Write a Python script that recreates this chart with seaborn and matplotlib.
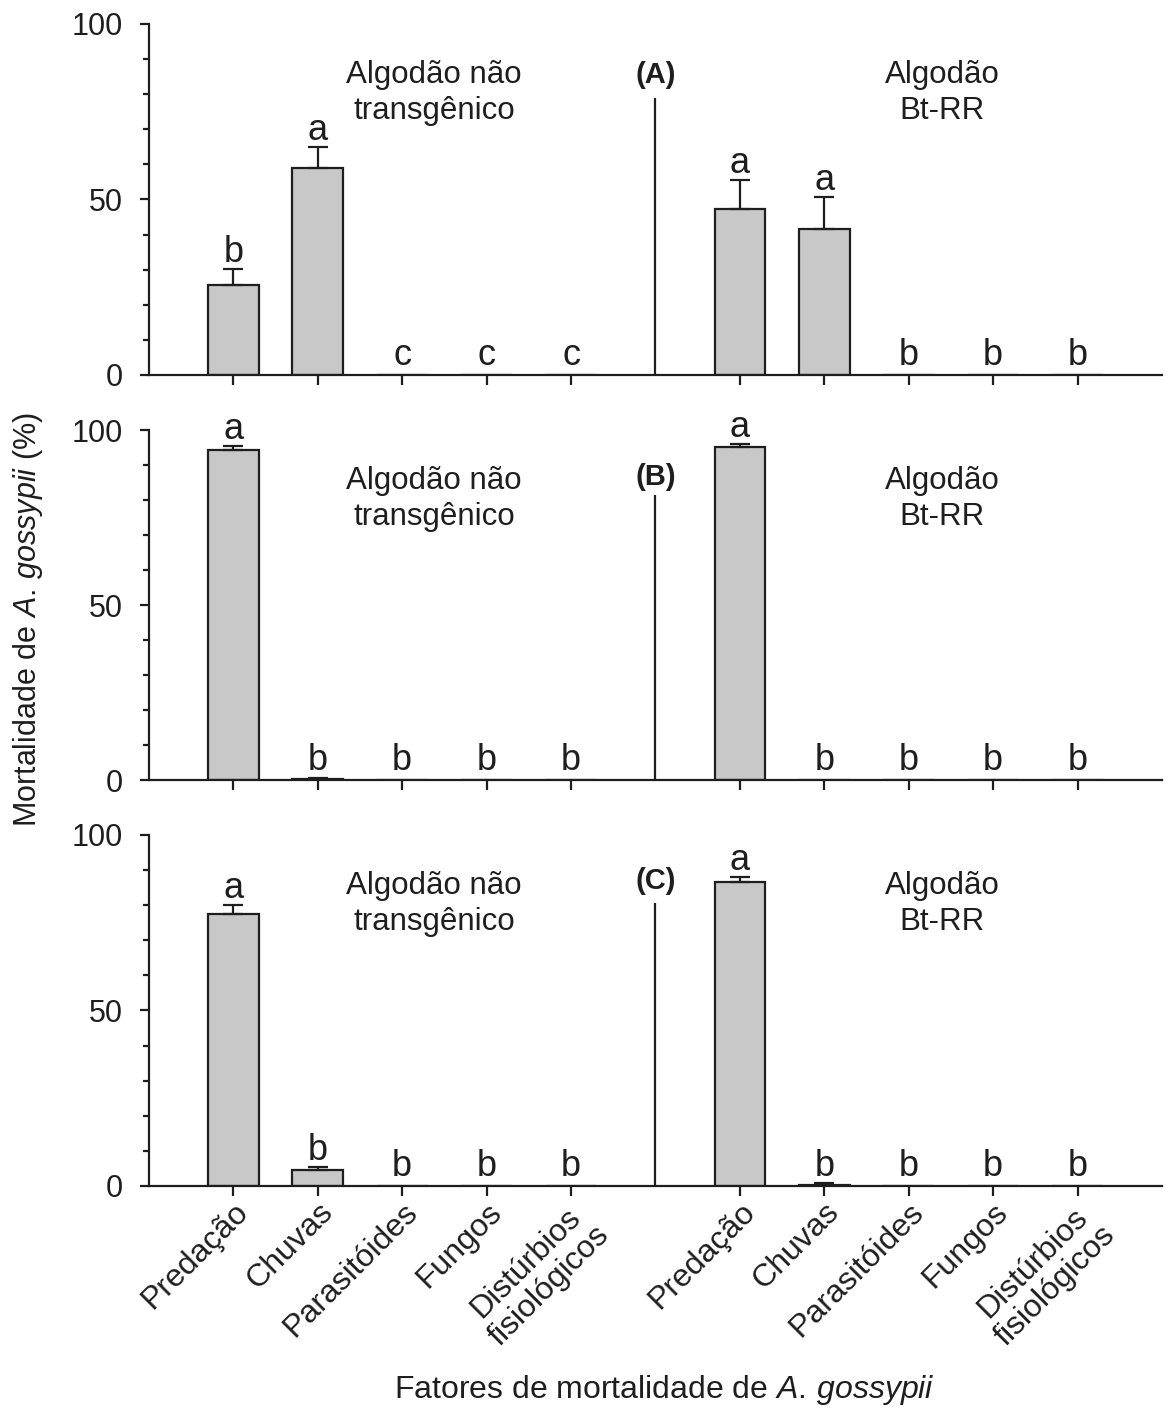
import numpy as np
import pandas as pd
import seaborn as sns
import matplotlib.pyplot as plt
from matplotlib.ticker import MultipleLocator

# Fatores de mortalidade (mesma ordem nos dois algodões)
fatores = ['Predação', 'Chuvas', 'Parasitóides', 'Fungos', 'Distúrbios\nfisiológicos']
posicoes = [0, 1, 2, 3, 4, 6, 7, 8, 9, 10]
rotulos = fatores + fatores

# (A)
media_a = [25.6, 59.1, 0, 0, 0, 47.4, 41.5, 0, 0, 0]
erro_a = [4.6, 5.7, 0, 0, 0, 8.0, 9.1, 0, 0, 0]
letras_a = ['b', 'a', 'c', 'c', 'c', 'a', 'a', 'b', 'b', 'b']

# (B)
media_b = [94.3, 0.3, 0, 0, 0, 95.2, 0, 0, 0, 0]
erro_b = [1.2, 0.2, 0, 0, 0, 0.9, 0, 0, 0, 0]
letras_b = ['a', 'b', 'b', 'b', 'b', 'a', 'b', 'b', 'b', 'b']

# (C)
media_c = [77.6, 4.6, 0, 0, 0, 86.6, 0.3, 0, 0, 0]
erro_c = [2.4, 0.9, 0, 0, 0, 1.4, 0.4, 0, 0, 0]
letras_c = ['a', 'b', 'b', 'b', 'b', 'a', 'b', 'b', 'b', 'b']

paineis = ['(A)', '(B)', '(C)']
y_painel = [85.5, 86.5, 87]
topo_divisoria = [79, 81.5, 80.7]

cor_barra = '#C8C8C8'
cor_linha = '#1e1e1e'

sns.set_style('ticks')
plt.rcParams['font.family'] = ['Liberation Sans', 'DejaVu Sans']
plt.rcParams['mathtext.fontset'] = 'custom'
plt.rcParams['mathtext.rm'] = 'Liberation Sans'
plt.rcParams['mathtext.it'] = 'Liberation Sans:italic'
plt.rcParams['text.color'] = cor_linha
plt.rcParams['xtick.color'] = cor_linha
plt.rcParams['ytick.color'] = cor_linha
plt.rcParams['axes.edgecolor'] = cor_linha

fig = plt.figure(figsize=(11.71, 14.09), dpi=100)
caixas = [
    [0.1272, 0.7339, 0.8651, 0.2491],
    [0.1272, 0.4464, 0.8651, 0.2484],
    [0.1272, 0.1583, 0.8651, 0.2491],
]

dados = [(media_a, erro_a, letras_a), (media_b, erro_b, letras_b), (media_c, erro_c, letras_c)]

for i, (media, erro, letras) in enumerate(dados):
    ax = fig.add_axes(caixas[i])
    df = pd.DataFrame({'pos': posicoes, 'media': media, 'erro': erro})
    sns.barplot(x='pos', y='media', data=df, native_scale=True, width=0.6,
                color=cor_barra, saturation=1, edgecolor=cor_linha,
                linewidth=1.6, errorbar=None, ax=ax)

    com_erro = df[df['erro'] > 0]
    ax.errorbar(com_erro['pos'], com_erro['media'],
                yerr=[np.zeros(len(com_erro)), com_erro['erro']],
                fmt='none', ecolor=cor_linha, elinewidth=1.6,
                capsize=7.5, capthick=1.6, zorder=1)

    for p, m, e, l in zip(posicoes, media, erro, letras):
        y = max(m + e + 2.0, 2.8)
        ax.text(p, y, l, ha='center', va='baseline', fontsize=26, clip_on=False)

    ax.vlines(5, 0, topo_divisoria[i], color=cor_linha, lw=1.6)
    ax.text(5, y_painel[i], paineis[i], ha='center', va='center',
            fontsize=21, fontweight='bold')
    ax.text(2.38, 80.3, 'Algodão não\ntransgênico', ha='center', va='center',
            fontsize=22.5, linespacing=1.28)
    ax.text(8.4, 80.3, 'Algodão\nBt-RR', ha='center', va='center',
            fontsize=22.5, linespacing=1.28)

    ax.set_xlim(-1, 11)
    ax.set_ylim(0, 100)
    ax.yaxis.set_major_locator(MultipleLocator(50))
    ax.yaxis.set_minor_locator(MultipleLocator(10))
    ax.tick_params(axis='y', which='major', length=6.5, width=1.6,
                   labelsize=22, pad=12)
    ax.tick_params(axis='y', which='minor', length=4, width=1.6)
    ax.set_xticks(posicoes)
    ax.tick_params(axis='x', length=7, width=1.6, labelsize=23, pad=1)
    for s in ['left', 'bottom']:
        ax.spines[s].set_linewidth(1.6)
    sns.despine(ax=ax)
    ax.set_xlabel('')
    ax.set_ylabel('')

    if i < 2:
        ax.set_xticklabels([])
    else:
        ax.set_xticklabels(rotulos, rotation=45, ha='right', va='top',
                           rotation_mode='anchor', multialignment='center')
        for rot in ax.get_xticklabels():
            rot.set_linespacing(1.1)

fig.text(0.024, 0.56, 'Mortalidade de $\\mathit{A.\\,gossypii}$ (%)',
         rotation=90, ha='center', va='center', fontsize=22)
fig.text(0.567, 0.0135, 'Fatores de mortalidade de $\\mathit{A.\\,gossypii}$',
         ha='center', va='center', fontsize=23)

fig.savefig('out.png', dpi=100)
